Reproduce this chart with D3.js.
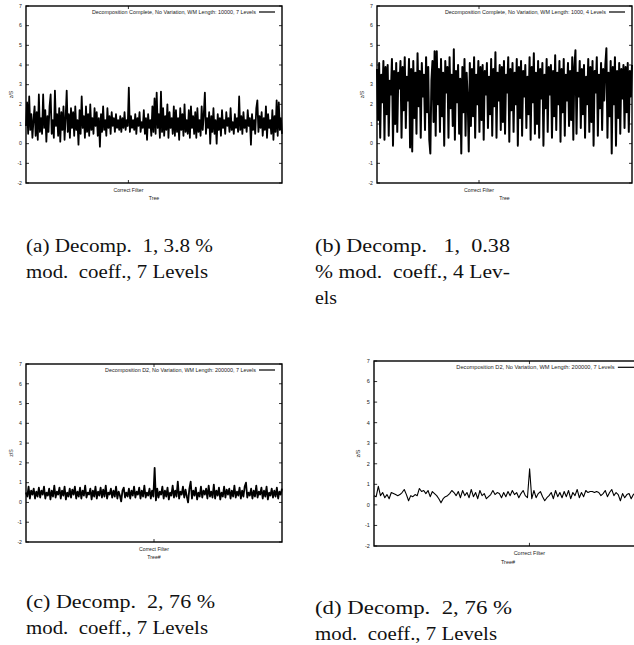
<!DOCTYPE html>
<html>
<head>
<meta charset="utf-8">
<script src="https://cdn.jsdelivr.net/npm/d3@7"></script>
<style>
  body { margin: 0; background: #fff; overflow: hidden; }
  svg { display: block; }
  .tick-label, .legend, .axis-label { font-family: "Liberation Sans", Arial, sans-serif; fill: #222; }
  .caption { font-family: "Liberation Serif", "Times New Roman", serif; fill: #111; white-space: pre; }
</style>
</head>
<body>
<div id="chart"></div>
<script>
const yTicks = [-2, -1, 0, 1, 2, 3, 4, 5, 6, 7];
const xTickLabel = "Correct Filter";

// panel (a) z/S per tree
const seriesA = [
  0.9, 2.1, 0.5, 2.4, 0.7, 1.5, 0.3, 1.2, 1.9, 0.4, 1.6, 0.2, 2.5, 0.6, 1.3, 0.5, 2.5, 0.8, 1.7, 0.1,
  1.4, 0.6, 1.9, 2.5, 0.5, 1.2, 0.3, 2.7, 0.9, 1.5, 0.4, 1.8, 0.1, 1.6, 0.7, 1.9, 0.2, 1.3, 2.7, 0.6,
  1.5, 0.3, 1.8, 0.8, 1.6, 0.4, 1.9, 0.7, 1.2, -0.05, 1.7, 0.5, 2.4, 0.8, 1.4, 0.3, 1.9, 0.6, 1.5, 0.4,
  2.0, 0.7, 1.3, 0.5, 1.8, 0.9, 1.6, 0.4, 1.3, -0.15, 1.5, 0.6, 1.9, 0.7, 1.2, 0.4, 1.8, 0.8, 1.4, 0.5,
  1.6, 0.9, 1.3, 0.6, 1.5, 0.8, 1.2, 0.7, 1.4, 0.6, 1.3, 0.8, 1.6, 0.7, 1.2, 0.9, 2.85, 0.6, 1.4, 0.8,
  1.2, 0.7, 1.5, 0.5, 1.3, 0.9, 1.6, 0.6, 1.1, 0.8, 1.7, 0.5, 1.3, 0.2, 1.5, 0.8, 1.2, 0.4, 1.9, 0.6,
  2.3, 0.5, 2.6, 0.8, 1.5, 0.3, 2.65, 0.6, 1.8, 0.4, 1.4, 0.7, 2.0, 0.3, 1.6, 0.8, 1.3, 0.5, 1.9, 0.4,
  1.7, 0.6, 1.3, 0.2, 1.8, 0.7, 1.5, 0.4, 2.0, 0.6, 1.2, 0.5, 1.7, 0.3, 1.9, 0.8, 1.4, 0.5, 1.6, 0.3,
  1.8, 0.6, 1.2, 0.4, 1.9, 0.7, 1.5, 2.6, 0.5, 1.3, 0.8, 1.6, 0.0, 1.4, 0.6, 1.8, 0.5, 1.2, 0.0, 1.5,
  0.7, 1.3, 0.4, 1.7, 0.8, 1.2, 0.5, 1.6, 0.9, 1.3, 0.6, 1.8, 0.7, 1.1, 0.5, 1.5, 0.8, 1.3, 0.6, 2.4,
  0.7, 1.4, 0.5, 1.6, 0.8, 1.2, 0.6, 1.7, 0.9, 1.3, -0.05, 1.5, 0.7, 1.2, 0.5, 1.8, 2.2, 0.6, 1.4, 0.8,
  1.6, 0.4, 1.3, 0.7, 1.9, 0.3, 1.5, 0.8, 1.2, 0.5, 1.7, 0.2, 1.4, 0.6, 2.2, 0.4, 2.1, 0.7, 1.3, 0.5
];

// panel (b)
const seriesB = [
  3.8, 1.2, 4.1, 0.3, 3.5, 2.1, 4.2, 0.2, 3.9, 1.5, 4.0, 0.4, 3.2, 2.5, 4.3, -0.1, 3.7, 1.0, 4.1, 0.6,
  3.6, 2.8, 4.2, 0.3, 3.9, 1.7, 4.4, 0.8, 3.4, 2.2, 4.3, -0.2, 3.8, -0.4, 4.2, 1.3, 3.6, 0.5, 4.6, 1.9,
  3.7, 0.3, 4.1, 2.4, 3.5, 0.7, 4.4, 1.6, 3.9, 0.2, -0.5, 3.2, 4.2, 1.1, 4.7, 0.4, 4.7, 2.0, 3.8, 0.6,
  4.3, 1.4, 3.6, -0.1, 4.2, 2.6, 3.9, 0.3, 4.4, 1.8, 3.5, 0.9, 4.8, 0.2, 3.7, 2.1, 4.0, 0.5, 3.3, -0.5,
  3.9, 1.6, 4.3, 0.4, 3.6, 2.3, -0.4, 4.1, 0.9, 3.8, 1.4, 4.4, 0.3, 3.5, 2.0, 4.2, 0.6, 3.9, 1.2, 4.0,
  0.2, 3.7, 2.5, 4.1, 0.8, 3.4, 1.5, 4.3, 0.4, 3.8, 1.9, 4.65, 0.3, 3.6, 2.2, 4.0, 0.7, 3.9, 1.1, 4.2,
  0.5, 3.5, 2.6, 4.4, 0.1, 3.8, 1.7, 4.1, 0.6, 3.6, 2.0, 4.3, -0.1, 3.9, 1.3, 4.2, 0.4, 3.7, 2.4, 4.0,
  0.8, 3.4, 1.5, 4.4, 0.2, 3.9, 2.1, 4.6, 0.5, 3.6, 1.0, 4.2, 0.3, 3.8, 2.3, 4.1, -0.1, 3.5, 1.8, 4.3,
  0.6, 3.9, 2.5, 4.0, 0.3, 3.7, 1.4, 4.5, 0.7, 3.6, 2.0, 4.2, 0.1, 3.8, 1.6, 4.3, 0.4, 3.5, 2.2, 4.1,
  0.9, 3.7, 1.2, 4.4, 0.2, 3.9, 4.75, 0.5, 3.6, 2.4, 4.2, 0.8, 3.8, 1.5, 4.0, 0.3, 3.4, 2.0, 4.3, 0.6,
  3.9, 1.1, 4.2, -0.1, 3.7, 2.6, 4.4, 0.4, 3.5, 1.8, 4.1, 0.7, 3.8, 2.2, 4.0, 4.85, 0.3, 3.6, 1.4, 4.2,
  -0.5, 3.9, 2.0, 4.4, -0.1, 3.7, 1.3, 4.1, 0.5, 3.8, 2.3, 4.0, 0.8, 3.9, 1.6, 4.1, 0.6, 3.7, 2.4, 4.0
];

// panel (c)
const seriesC = [
  0.5, 0.3, 0.8, 0.2, 0.6, 0.4, 0.7, 0.2, 0.55, 0.3, 0.75, 0.25, 0.6, 0.4, 0.8, 0.2, 0.5, 0.35, 0.7, 0.15,
  0.6, 0.3, 0.85, 0.25, 0.55, 0.4, 0.75, 0.2, 0.6, 0.35, 0.8, 0.15, 0.5, 0.3, 0.7, 0.25, 0.65, 0.4, 0.8, 0.2,
  0.55, 0.3, 0.75, 0.2, 0.6, 0.35, 0.85, 0.25, 0.5, 0.4, 0.7, 0.15, 0.6, 0.3, 0.8, 0.2, 0.55, 0.35, 0.75, 0.25,
  0.65, 0.3, 0.85, 0.2, 0.5, 0.4, 0.7, 0.25, 0.6, 0.3, 0.8, 0.2, 0.55, 0.35, 0.05, 0.6, 0.75, 0.25, 0.5, 0.3,
  0.7, 0.2, 0.6, 0.35, 0.8, 0.25, 0.55, 0.4, 0.75, 0.2, 0.6, 0.3, 0.85, 0.25, 0.5, 0.35, 0.7, 0.2, 0.6, 0.3,
  1.75, 0.1, 0.7, 0.25, 0.55, 0.4, 0.8, 0.2, 0.6, 0.3, 0.75, 0.15, 0.5, 0.35, 0.85, 0.25, 0.6, 0.3, 1.05, 0.2,
  0.55, 0.4, 0.8, 0.25, 0.65, 0.3, 0.0, 0.7, 1.05, 0.2, 0.6, 0.35, 0.75, 0.15, 0.5, 0.3, 0.8, 0.25, 0.6, 0.4,
  0.7, 0.2, 0.85, 0.3, 0.55, 0.25, 0.9, 0.2, 0.6, 0.35, 0.75, 0.15, 0.5, 0.3, 0.8, 0.25, 0.65, 0.4, 0.7, 0.2,
  0.6, 0.3, 0.85, 0.25, 0.55, 0.35, 0.75, 0.2, 0.6, 0.3, 0.8, 1.0, 0.25, 0.5, 0.35, 0.7, 0.2, 0.6, 0.3, 0.85,
  0.25, 0.55, 0.4, 0.75, 0.2, 0.6, 0.3, 0.8, 0.15, 0.5, 0.35, 0.7, 0.25, 0.6, 0.3, 0.75, 0.2, 0.55, 0.4, 0.7
];

// panel (d)
const seriesD = [
  0.45, 0.4, 0.9, 0.45, 0.6, 0.35, 0.5, 0.3, 0.6, 0.55, 0.5, 0.45, 0.5, 0.6, 0.75, 0.5, 0.2, 0.45, 0.4, 0.5,
  0.45, 0.8, 0.65, 0.7, 0.55, 0.7, 0.4, 0.65, 0.55, 0.45, 0.3, 0.1, 0.3, 0.4, 0.45, 0.55, 0.7, 0.6, 0.45, 0.65,
  0.35, 0.7, 0.45, 0.6, 0.35, 0.75, 0.4, 0.6, 0.3, 0.7, 0.45, 0.55, 0.3, 0.4, 0.5, 0.7, 0.5, 0.6, 0.55, 0.35,
  0.6, 0.4, 0.65, 0.45, 0.7, 0.5, 0.6, 0.35, 0.55, 0.7, 0.45, 0.35, 1.75, 0.3, 0.7, 0.35, 0.55, 0.65, 0.4, 0.2,
  0.35, 0.45, 0.6, 0.3, 0.7, 0.4, 0.6, 0.35, 0.65, 0.4, 0.7, 0.3, 0.6, 0.45, 0.75, 0.35, 0.6, 0.4, 0.7, 0.6,
  0.65, 0.65, 0.6, 0.65, 0.6, 0.45, 0.55, 0.7, 0.4, 0.6, 0.75, 0.45, 0.6, 0.5, 0.2, 0.55, 0.35, 0.5, 0.55, 0.3,
  0.5, 0.6, 0.4, 0.55, 0.5
];

const legendLabels = [
  "Decomposition Complete, No Variation, WM Length: 10000, 7 Levels",
  "Decomposition Complete, No Variation, WM Length: 1000, 4 Levels",
  "Decomposition D2, No Variation, WM Length: 200000, 7 Levels",
  "Decomposition D2, No Variation, WM Length: 200000, 7 Levels"
];
const xTitles = ["Tree", "Tree", "Tree#", "Tree#"];
const captions = [
  ["(a) Decomp.  1, 3.8 %", "mod.  coeff., 7 Levels"],
  ["(b) Decomp.   1,  0.38", "% mod.  coeff., 4 Lev-", "els"],
  ["(c) Decomp.  2, 76 %", "mod.  coeff., 7 Levels"],
  ["(d) Decomp.  2, 76 %", "mod.  coeff., 7 Levels"]
];

// layout of each panel (pixel boxes, caption origin and line widths)
const panels = [
  { series: seriesA, box: [26, 6, 282, 183], tickAt: 0.4, k: 1, lw: 1.8, cap: [26, 252], capW: [187, 182] },
  { series: seriesB, box: [377, 6, 632, 183], tickAt: 0.4, k: 1, lw: 2.0, cap: [315, 252], capW: [195, 195, 22] },
  { series: seriesC, box: [26, 364, 282, 542], tickAt: 0.5, k: 1, lw: 1.8, cap: [26, 608], capW: [189, 182] },
  { series: seriesD, box: [374, 361, 642, 546], tickAt: 0.58, k: 1.05, lw: 1.1, cap: [315, 614], capW: [197, 182] }
];

const svg = d3.select("#chart").append("svg")
  .attr("width", 634)
  .attr("height", 645);

panels.forEach((p, i) => {
  const [x0, y0, x1, y1] = p.box;
  const k = p.k;
  const n = p.series.length;
  const g = svg.append("g");

  const x = d3.scaleLinear().domain([0, n - 1]).range([x0, x1]);
  const y = d3.scaleLinear().domain([-2, 7]).range([y1, y0]);
  const tickX = x(p.tickAt * (n - 1));

  // data line
  g.append("path")
    .datum(p.series)
    .attr("fill", "none")
    .attr("stroke", "#000")
    .attr("stroke-width", p.lw)
    .attr("stroke-linejoin", "round")
    .attr("d", d3.line().x((d, j) => x(j)).y(d => y(d)));

  // y ticks on both sides, pointing inward
  const tlen = 3 * k;
  g.selectAll(".ytl").data(yTicks).enter().append("line")
    .attr("x1", x0).attr("x2", x0 + tlen)
    .attr("y1", d => y(d)).attr("y2", d => y(d))
    .attr("stroke", "#000").attr("stroke-width", 0.8);
  g.selectAll(".ytr").data(yTicks).enter().append("line")
    .attr("x1", x1).attr("x2", x1 - tlen)
    .attr("y1", d => y(d)).attr("y2", d => y(d))
    .attr("stroke", "#000").attr("stroke-width", 0.8);
  g.selectAll(".ylab").data(yTicks).enter().append("text")
    .attr("class", "tick-label")
    .attr("x", x0 - 4 * k)
    .attr("y", d => y(d))
    .attr("dy", "0.35em")
    .attr("text-anchor", "end")
    .attr("font-size", 5.2 * k)
    .text(d => d);

  // x tick
  g.append("line").attr("x1", tickX).attr("x2", tickX).attr("y1", y1).attr("y2", y1 - tlen)
    .attr("stroke", "#000").attr("stroke-width", 0.8);
  g.append("line").attr("x1", tickX).attr("x2", tickX).attr("y1", y0).attr("y2", y0 + tlen)
    .attr("stroke", "#000").attr("stroke-width", 0.8);
  g.append("text").attr("class", "tick-label")
    .attr("x", tickX).attr("y", y1 + 9 * k)
    .attr("text-anchor", "middle").attr("font-size", 5.2 * k)
    .text(xTickLabel);
  g.append("text").attr("class", "axis-label")
    .attr("x", (x0 + x1) / 2).attr("y", y1 + 17 * k)
    .attr("text-anchor", "middle").attr("font-size", 5.2 * k)
    .text(xTitles[i]);

  // y title
  g.append("text").attr("class", "axis-label")
    .attr("transform", `translate(${x0 - 13 * k},${(y0 + y1) / 2}) rotate(-90)`)
    .attr("text-anchor", "middle").attr("font-size", 5.2 * k)
    .text("z/S");

  // frame
  g.append("rect")
    .attr("x", x0).attr("y", y0)
    .attr("width", x1 - x0).attr("height", y1 - y0)
    .attr("fill", "none").attr("stroke", "#000").attr("stroke-width", 1.4);

  // legend
  const ly = y0 + 6 * k;
  g.append("text").attr("class", "legend")
    .attr("x", x1 - 26 * k).attr("y", ly).attr("dy", "0.35em")
    .attr("text-anchor", "end").attr("font-size", 5.4 * k)
    .text(legendLabels[i]);
  g.append("line")
    .attr("x1", x1 - 23 * k).attr("x2", x1 - 7 * k)
    .attr("y1", ly).attr("y2", ly)
    .attr("stroke", "#000").attr("stroke-width", 1.2);

  // caption below
  g.selectAll(".cap").data(captions[i]).enter().append("text")
    .attr("class", "caption")
    .attr("x", p.cap[0])
    .attr("y", (d, j) => p.cap[1] + j * 26)
    .attr("font-size", 19.5)
    .attr("textLength", (d, j) => p.capW[j])
    .attr("lengthAdjust", "spacingAndGlyphs")
    .text(d => d);
});
</script>
</body>
</html>
